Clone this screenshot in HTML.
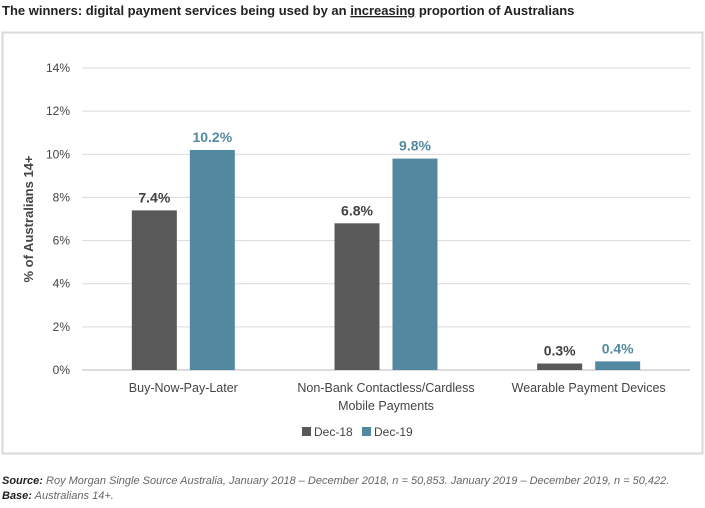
<!DOCTYPE html>
<html><head><meta charset="utf-8"><style>
body{margin:0;background:#fff;width:705px;height:503px;overflow:hidden;font-family:"Liberation Sans","DejaVu Sans",sans-serif}
svg text{font-family:"Liberation Sans","DejaVu Sans",sans-serif}
</style></head><body>
<svg id="c" width="705" height="503">
<text x="2" y="15" font-size="13" font-weight="bold" fill="#222">The winners: digital payment services being used by an <tspan text-decoration="underline">increasing</tspan> proportion of Australians</text>
<rect x="2.5" y="32.5" width="700" height="421" fill="#fff" stroke="#d9d9d9" stroke-width="2"/>
<g id="grid"></g><g id="bars"></g>
<text transform="translate(33,219) rotate(-90)" text-anchor="middle" font-size="13" font-weight="bold" fill="#444">% of Australians 14+</text>
<g>
<rect x="302" y="427" width="9" height="9" fill="#595959"/>
<text x="314" y="436" font-size="12" fill="#444">Dec-18</text>
<rect x="362" y="427" width="9" height="9" fill="#5389a0"/>
<text x="374" y="436" font-size="12" fill="#444">Dec-19</text>
</g>
<text x="2" y="484" font-size="11" font-style="italic" fill="#666"><tspan font-weight="bold" fill="#222">Source:</tspan> Roy Morgan Single Source Australia, January 2018 – December 2018, n = 50,853. January 2019 – December 2019, n = 50,422.</text>
<text x="2" y="499" font-size="11" font-style="italic" fill="#666"><tspan font-weight="bold" fill="#222">Base:</tspan> Australians 14+.</text>
</svg>
<script>
const categories=[["Buy-Now-Pay-Later"],["Non-Bank Contactless/Cardless","Mobile Payments"],["Wearable Payment Devices"]];
const dec18=[7.4,6.8,0.3];
const dec19=[10.2,9.8,0.4];
const yTicks=[0,2,4,6,8,10,12,14];
const NS="http://www.w3.org/2000/svg";
const x0=82,x1=690,y0=370,y1=68,ymax=14;
const y=v=>y0-(v/ymax)*(y0-y1);
const bw=(x1-x0)/categories.length;
const cx=i=>x0+bw*(i+0.5);
function mk(tag,attrs,parent,txt){const e=document.createElementNS(NS,tag);for(const k in attrs)e.setAttribute(k,attrs[k]);if(txt!=null)e.textContent=txt;parent.appendChild(e);return e;}
const grid=document.getElementById('grid'),bars=document.getElementById('bars');
yTicks.forEach(t=>{
 const l=mk('line',{x1:x0,x2:x1,y1:y(t),y2:y(t),stroke:t===0?'#d0d0d0':'#d9d9d9','stroke-width':t===0?1.5:1},grid);
 
 
 const tx=mk('text',{x:70,y:y(t)+4,'text-anchor':'end','font-size':12,fill:'#444'},grid,t+'%');
 
 
});
const series=[[dec18,'#595959','#404040','dec-18',-29],[dec19,'#5389a0','#5389a0','dec-19',29]];
categories.forEach((c,i)=>{
 series.forEach(([vals,col,lc,nm,off])=>{
  const v=vals[i],bx=cx(i)+off-22.5;
  const r=mk('rect',{x:bx,y:y(v),width:45,height:y0-y(v),fill:col},bars);
  
  
  const t=mk('text',{x:bx+22.5,y:y(v)-8,'text-anchor':'middle','font-size':14,'font-weight':'bold',fill:lc},bars,v.toFixed(1)+'%');
  
  
 });
 c.forEach((line,j)=>{
  const t=mk('text',{x:cx(i),y:392+j*18,'text-anchor':'middle','font-size':12.5,fill:'#444'},bars,line);
  
  
 });
});
</script>
</body></html>
